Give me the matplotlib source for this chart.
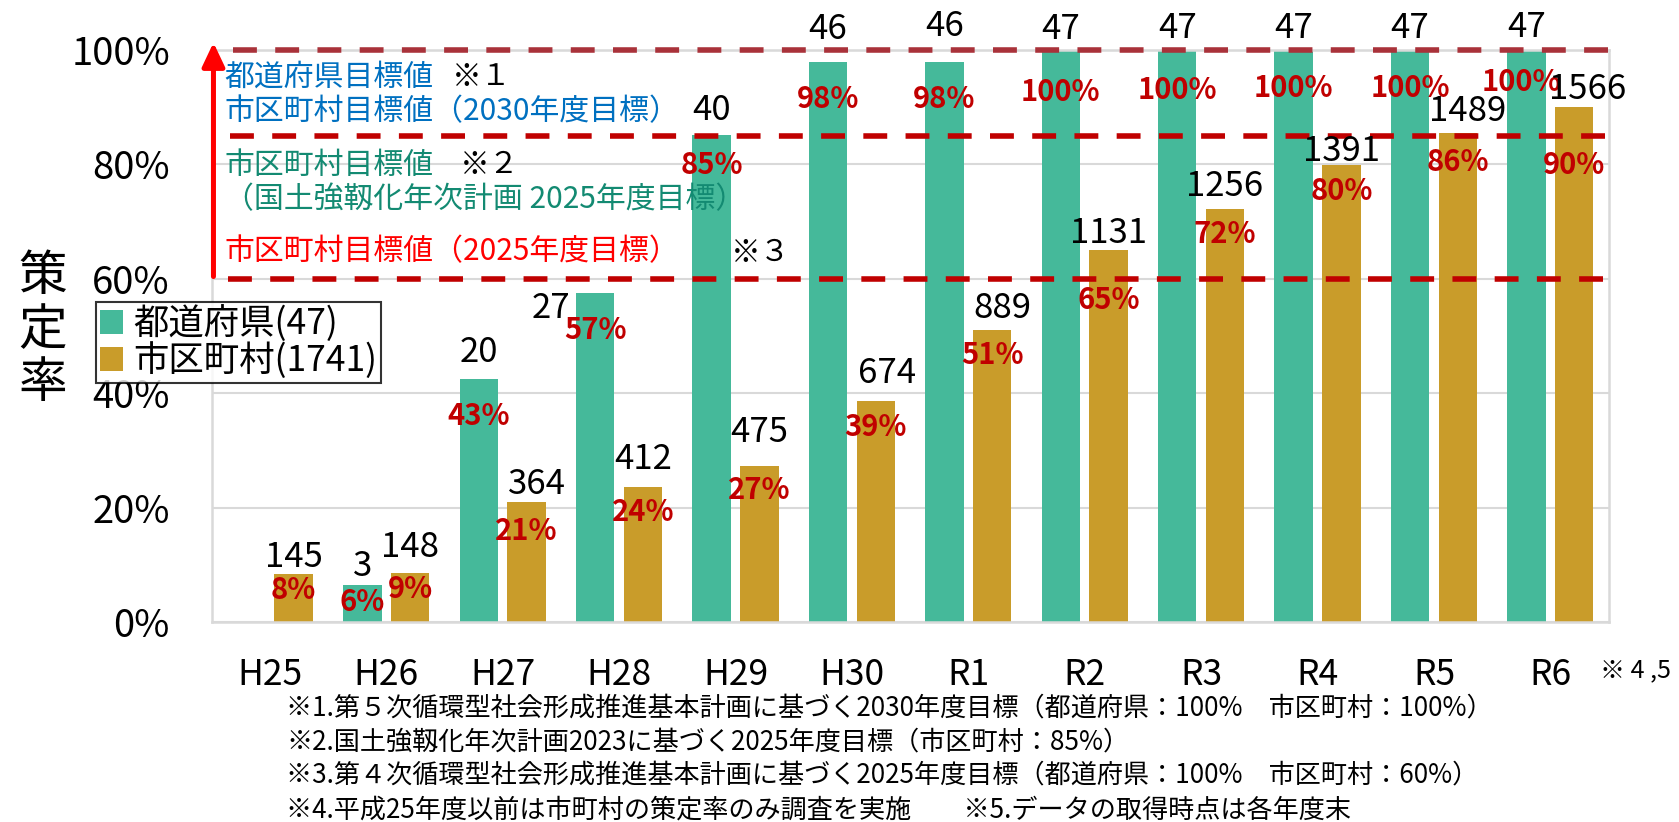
import matplotlib
matplotlib.use('Agg')
import matplotlib.pyplot as plt
from matplotlib.patches import Patch
import numpy as np

plt.rcParams['font.family'] = ['Noto Sans CJK JP', 'DejaVu Sans']

# ---------------------------------------------------------------------------
# data
# ---------------------------------------------------------------------------
years = ['H25', 'H26', 'H27', 'H28', 'H29', 'H30', 'R1', 'R2', 'R3', 'R4', 'R5', 'R6']
pref_total = 47
muni_total = 1741
pref_count = [np.nan, 3, 20, 27, 40, 46, 46, 47, 47, 47, 47, 47]
muni_count = [145, 148, 364, 412, 475, 674, 889, 1131, 1256, 1391, 1489, 1566]
pref_pct = [None, 6, 43, 57, 85, 98, 98, 100, 100, 100, 100, 100]
muni_pct = [8, 9, 21, 24, 27, 39, 51, 65, 72, 80, 86, 90]
targets = [1.00, 0.85, 0.60]
legend_labels = ['都道府県(47)', '市区町村(1741)']

# ---------------------------------------------------------------------------
# layout helpers (pixel coords of the 1679x822 canvas)
# ---------------------------------------------------------------------------
W, H = 1679, 822
def fx(x):
    return x / W
def fy(y):
    return 1 - y / H
PX = 0.72  # px -> pt at dpi 100

c_pref = '#45B99A'
c_muni = '#C99C2A'
c_red = '#C00000'

# label nudges (px): gap between bar top and label centre
pref_cnt_gap = [0, 19, 26, -15, 25, 33, 36, 21, 22, 22, 22, 23]
muni_cnt_gap = [17, 26, 18, 27, 33, 27, 21, 17, 23, 13, 21, 18]
pref_pct_gap = [0, 17, 37, 37, 30, 37, 37, 42, 40, 38, 38, 32]
muni_pct_gap = [16, 16, 29, 25, 24, 26, 25, 50, 25, 26, 29, 58]
pref_cnt_dx = {3: -44}
pref_pct_dx = {11: -5}
muni_cnt_dx = {2: 10, 5: 11, 6: 10, 10: 10, 11: 13}

fig = plt.figure(figsize=(W / 100, H / 100), dpi=100)
ax = fig.add_axes([fx(211.6), fy(622), (1608.6 - 211.6) / W, 572 / H])

x = np.arange(len(years))
bw = 0.33
off = 0.205
pref_h = np.array(pref_count, dtype=float) / pref_total
muni_h = np.array(muni_count, dtype=float) / muni_total

ax.bar(x - off, np.nan_to_num(pref_h), bw, color=c_pref, zorder=2)
ax.bar(x + off, muni_h, bw, color=c_muni, zorder=2)

ax.set_xlim(-0.5, len(years) - 0.5)
ax.set_ylim(0, 1)
ax.set_yticks(np.arange(0, 1.01, 0.2))
ax.set_yticklabels([f'{int(round(v * 100))}%' for v in np.arange(0, 1.01, 0.2)])
ax.set_xticks(x)
ax.set_xticklabels(years)
ax.tick_params(axis='y', length=0, pad=30, labelsize=27.5)
ax.tick_params(axis='x', length=0, pad=25, labelsize=25.5)
ax.grid(axis='y', color='#D9D9D9', linewidth=1.5, zorder=0)
ax.set_axisbelow(True)
for s in ax.spines.values():
    s.set_color('#D9D9D9')
    s.set_linewidth(1.8)

# target lines
starts = [-0.32, -0.34, -0.36]
ends = [11.5, 11.48, 11.46]
colors = ['#A9323A', c_red, c_red]
for t, s0, e0, c in zip(targets, starts, ends, colors):
    ax.plot([s0, e0], [t, t], color=c, linewidth=4, dashes=(4.3, 3.3),
            solid_capstyle='butt', dash_capstyle='butt', zorder=3, clip_on=False)

# red arrow on the axis
ax.annotate('', xy=(-0.484, 1.013), xytext=(-0.484, 0.604),
            arrowprops=dict(arrowstyle='-|>,head_width=0.34,head_length=0.72',
                            mutation_scale=20, lw=3.6, color='#FF0000',
                            shrinkA=0, shrinkB=0),
            annotation_clip=False, zorder=4)

# bar labels
for i in range(len(years)):
    if not np.isnan(pref_h[i]):
        ax.annotate(f'{int(pref_count[i])}', (x[i] - off, pref_h[i]),
                    xytext=(pref_cnt_dx.get(i, 0) * PX, pref_cnt_gap[i] * PX),
                    textcoords='offset points', ha='center', va='center',
                    fontsize=25, color='black', annotation_clip=False, zorder=5)
        ax.annotate(f'{pref_pct[i]}%', (x[i] - off, pref_h[i]),
                    xytext=(pref_pct_dx.get(i, 0) * PX, -pref_pct_gap[i] * PX),
                    textcoords='offset points',
                    ha='center', va='center', fontsize=21, fontweight='bold',
                    color=c_red, annotation_clip=False, zorder=5)
    ax.annotate(f'{muni_count[i]}', (x[i] + off, muni_h[i]),
                xytext=(muni_cnt_dx.get(i, 0) * PX, muni_cnt_gap[i] * PX),
                textcoords='offset points', ha='center', va='center',
                fontsize=25, color='black', annotation_clip=False, zorder=5)
    ax.annotate(f'{muni_pct[i]}%', (x[i] + off, muni_h[i]),
                xytext=(0, -muni_pct_gap[i] * PX), textcoords='offset points',
                ha='center', va='center', fontsize=21, fontweight='bold',
                color=c_red, annotation_clip=False, zorder=5)

# target annotations
blue = '#0070C0'
teal = '#138A72'
notes = [
    (224, 77, '都道府県目標値', blue),
    (452, 77, '※１', 'black'),
    (224, 112, '市区町村目標値（2030年度目標）', blue),
    (224, 165, '市区町村目標値', teal),
    (460, 165, '※２', 'black'),
    (224, 200, '（国土強靱化年次計画 2025年度目標）', teal),
    (224, 252, '市区町村目標値（2025年度目標）', '#FF0000'),
    (731, 252, '※３', 'black'),
]
for px_, py_, txt, c in notes:
    fig.text(fx(px_), fy(py_), txt, color=c, fontsize=21.5, ha='left', va='center')

# y label, stacked vertically
for ch, py_ in zip('策定率', [276, 330, 383]):
    fig.text(fx(43), fy(py_), ch, fontsize=35, ha='center', va='center')

# legend
handles = [Patch(facecolor=c_pref), Patch(facecolor=c_muni)]
leg = ax.legend(handles, legend_labels, loc='upper left',
                bbox_to_anchor=(fx(96), fy(302)), bbox_transform=fig.transFigure,
                fontsize=25.5, frameon=True, fancybox=False, edgecolor='black',
                handlelength=0.65, handleheight=0.65, handletextpad=0.3,
                labelspacing=0.0, borderpad=0.1, borderaxespad=0)
leg.get_frame().set_linewidth(1.5)
leg.set_zorder(6)

fig.text(fx(1600), fy(670), '※ 4 ,5', fontsize=18, ha='left', va='center')

footnotes = [
    '※1.第５次循環型社会形成推進基本計画に基づく2030年度目標（都道府県：100%　市区町村：100%）',
    '※2.国土強靱化年次計画2023に基づく2025年度目標（市区町村：85%）',
    '※3.第４次循環型社会形成推進基本計画に基づく2025年度目標（都道府県：100%　市区町村：60%）',
    '※4.平成25年度以前は市町村の策定率のみ調査を実施　　※5.データの取得時点は各年度末',
]
for txt, py_ in zip(footnotes, [708, 742, 775, 810]):
    fig.text(fx(286), fy(py_), txt, fontsize=18.8, ha='left', va='center')

fig.savefig('out.png', dpi=100)
